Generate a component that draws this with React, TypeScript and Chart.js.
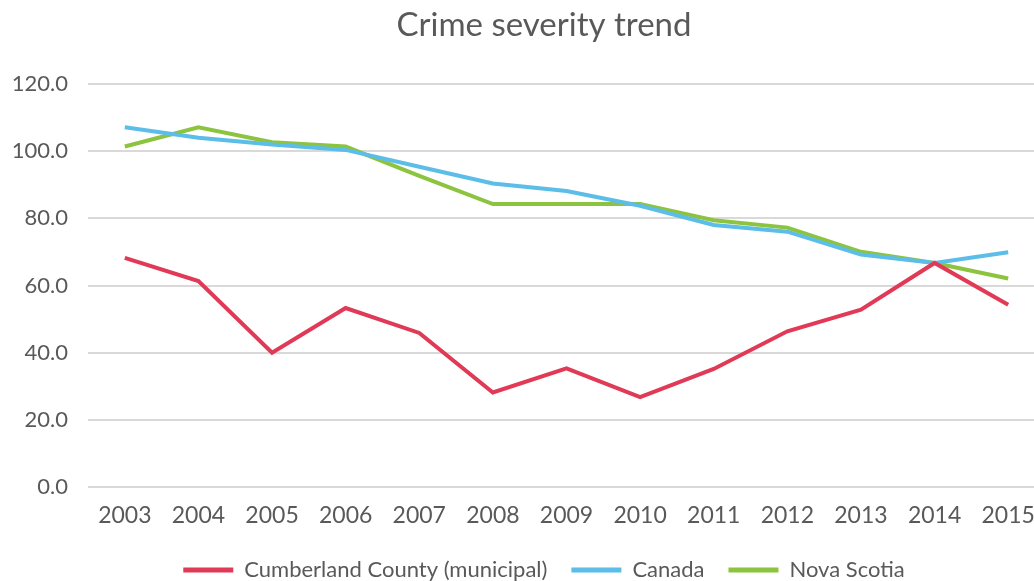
import React, { useEffect, useRef } from "react";
import { Chart, registerables } from "chart.js";

Chart.register(...registerables);

const years = ["2003", "2004", "2005", "2006", "2007", "2008", "2009", "2010", "2011", "2012", "2013", "2014", "2015"];
const cumberland = [68.2, 61.3, 40.0, 53.3, 45.9, 28.2, 35.4, 26.8, 35.2, 46.4, 52.8, 66.7, 54.3];
const canada = [107.0, 103.9, 101.9, 100.3, 95.3, 90.3, 88.1, 83.7, 78.0, 76.0, 69.2, 66.7, 69.9];
const novaScotia = [101.3, 107.0, 102.6, 101.3, 92.6, 84.2, 84.2, 84.2, 79.4, 77.2, 70.0, 66.7, 62.1];
const yTicks = { min: 0, max: 120, step: 20 };

const FONT = "Lato, 'Open Sans', sans-serif";
const TEXT = "#595959";

// Lets the value labels of the narrow y axis extend into the left margin
// instead of being clipped to the axis box.
const widenYLabelArea = {
  id: "widenYLabelArea",
  afterLayout(chart: any) {
    const y = chart.scales.y;
    if (y) y.left = 0;
  },
};

export default function App() {
  const ref = useRef<HTMLCanvasElement | null>(null);

  useEffect(() => {
    if (!ref.current) return;
    const chart = new Chart(ref.current, {
      type: "line",
      data: {
        labels: years,
        datasets: [
          { label: "Cumberland County (municipal)", data: cumberland, borderColor: "#e03a57", backgroundColor: "#e03a57" },
          { label: "Canada", data: canada, borderColor: "#5bbde8", backgroundColor: "#5bbde8" },
          { label: "Nova Scotia", data: novaScotia, borderColor: "#8cc43f", backgroundColor: "#8cc43f" },
        ].map((d) => ({ ...d, borderWidth: 4, pointRadius: 0, tension: 0, fill: false })),
      },
      plugins: [widenYLabelArea],
      options: {
        responsive: false,
        animation: false,
        devicePixelRatio: 1,
        layout: { padding: { left: 43, right: 43, top: 2, bottom: -10 } },
        plugins: {
          tooltip: { enabled: false },
          title: {
            display: true,
            text: "Crime severity trend",
            color: TEXT,
            font: { family: FONT, size: 33, weight: "normal" },
            padding: { top: 4, bottom: 38 },
          },
          legend: {
            position: "bottom",
            labels: {
              color: TEXT,
              font: { family: FONT, size: 22 },
              boxWidth: 50,
              boxHeight: 5,
              padding: 24,
              generateLabels: (c: Chart) =>
                Chart.defaults.plugins.legend.labels.generateLabels(c).map((it: any) => ({
                  ...it,
                  fillStyle: it.strokeStyle,
                  lineWidth: 0,
                })),
            },
          },
        },
        scales: {
          x: {
            offset: true,
            grid: { display: false },
            border: { display: false },
            ticks: { color: TEXT, font: { family: FONT, size: 23 }, padding: 6, maxRotation: 0 },
          },
          y: {
            min: yTicks.min,
            max: yTicks.max,
            grid: { color: "#d9d9d9", lineWidth: 2, drawTicks: false },
            border: { display: false },
            afterFit: (scale: any) => {
              scale.width = 45;
            },
            ticks: {
              stepSize: yTicks.step,
              color: TEXT,
              font: { family: FONT, size: 22 },
              padding: 20,
              callback: (v: any) => Number(v).toFixed(1),
            },
          },
        },
      },
    });
    return () => chart.destroy();
  }, []);

  return (
    <div style={{ position: "absolute", left: 0, top: 0, width: 1034, height: 581, overflow: "hidden", background: "#fff" }}>
      <canvas ref={ref} width={1088} height={581} style={{ width: 1088, height: 581, display: "block" }} />
    </div>
  );
}
